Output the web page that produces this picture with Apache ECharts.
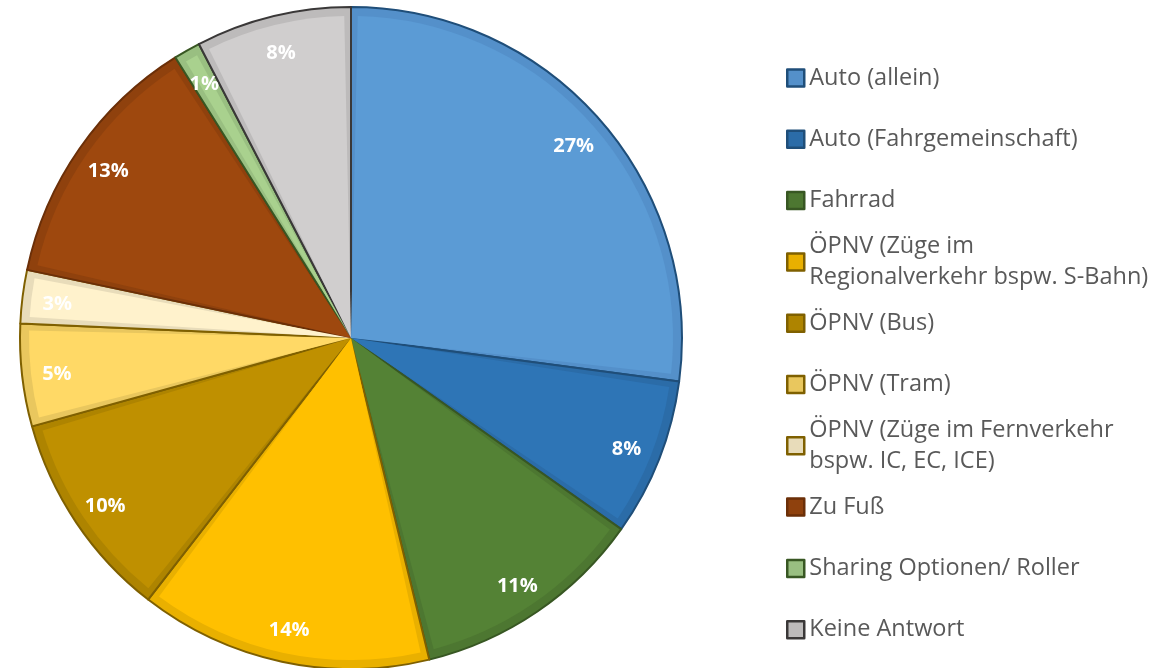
<!DOCTYPE html>
<html>
<head>
<meta charset="utf-8">
<script src="https://cdn.jsdelivr.net/npm/echarts@6/dist/echarts.min.js"></script>
<style>
  html, body { margin: 0; padding: 0; background: #fff; }
  #chart { width: 1169px; height: 668px; }
</style>
</head>
<body>
<div id="chart"></div>
<script>
// categories and values (share of answers)
var categories = [
  'Auto (allein)',
  'Auto (Fahrgemeinschaft)',
  'Fahrrad',
  'ÖPNV (Züge im\nRegionalverkehr bspw. S-Bahn)',
  'ÖPNV (Bus)',
  'ÖPNV (Tram)',
  'ÖPNV (Züge im Fernverkehr\nbspw. IC, EC, ICE)',
  'Zu Fuß',
  'Sharing Optionen/ Roller',
  'Keine Antwort'
];
var values = [27.1, 7.7, 11.4, 14.3, 10.2, 5.0, 2.6, 12.8, 1.3, 7.6];

var fills    = ['#5B9BD5', '#2E75B6', '#548235', '#FFC000', '#BF9000', '#FFD966', '#FFF2CC', '#9E480E', '#A9D18E', '#D0CECE'];
var bands    = ['#5490CA', '#2B6CA8', '#4D7731', '#E9B000', '#AE8400', '#E9C75E', '#E8DCBA', '#8F410D', '#99BF81', '#BDBBBB'];
var outlines = ['#1F4E79', '#1F4E79', '#385723', '#7F6000', '#7F6000', '#7F6000', '#7F6000', '#6B2F08', '#385723', '#3A3838'];

var cx = 351, cy = 338, R = 331;

var chart = echarts.init(document.getElementById('chart'));

var legends = categories.map(function (name, i) {
  var twoLine = name.indexOf('\n') >= 0;
  var c = 78 + 61.3 * i;
  return {
    orient: 'vertical',
    left: 786,
    top: twoLine ? c - 46.5 : c - 15.5,
    padding: 0,
    itemWidth: 17,
    itemHeight: 17,
    icon: 'rect',
    selectedMode: false,
    data: [{
      name: name,
      itemStyle: { color: bands[i], borderColor: outlines[i], borderWidth: 2.5 }
    }],
    textStyle: {
      fontFamily: 'Open Sans',
      fontSize: 23.5,
      color: '#595959',
      lineHeight: 31,
      padding: twoLine ? [31, 0, 0, 0] : 0
    }
  };
});

chart.setOption({
  animation: false,
  legend: legends,
  series: [
    {
      // outer shade + dark outline
      name: 'base',
      type: 'pie',
      center: [cx, cy],
      radius: [0, R],
      startAngle: 90,
      silent: true,
      label: { show: false },
      labelLine: { show: false },
      data: categories.map(function (n, i) {
        return { name: n, value: values[i],
          itemStyle: { color: bands[i], borderColor: outlines[i], borderWidth: 2 } };
      })
    },
    {
      // lighter inner face of each slice
      name: 'face',
      type: 'pie',
      center: [cx, cy],
      radius: [0, R - 9],
      startAngle: 90,
      padAngle: 2.4,
      silent: true,
      label: { show: false },
      labelLine: { show: false },
      data: categories.map(function (n, i) {
        return { name: n, value: values[i], itemStyle: { color: fills[i] } };
      })
    },
    {
      // transparent ring that carries the percent labels
      name: 'labels',
      type: 'pie',
      center: [cx, cy],
      radius: [255, R],
      startAngle: 90,
      silent: true,
      itemStyle: { color: 'rgba(0,0,0,0)' },
      label: {
        show: true,
        position: 'inside',
        color: '#fff',
        fontFamily: 'Open Sans',
        fontWeight: 'bold',
        fontSize: 20,
        offset: [0, 3],
        formatter: function (p) { return Math.round(p.percent) + '%'; }
      },
      labelLine: { show: false },
      data: categories.map(function (n, i) {
        return { name: n, value: values[i] };
      })
    }
  ]
});
</script>
</body>
</html>
